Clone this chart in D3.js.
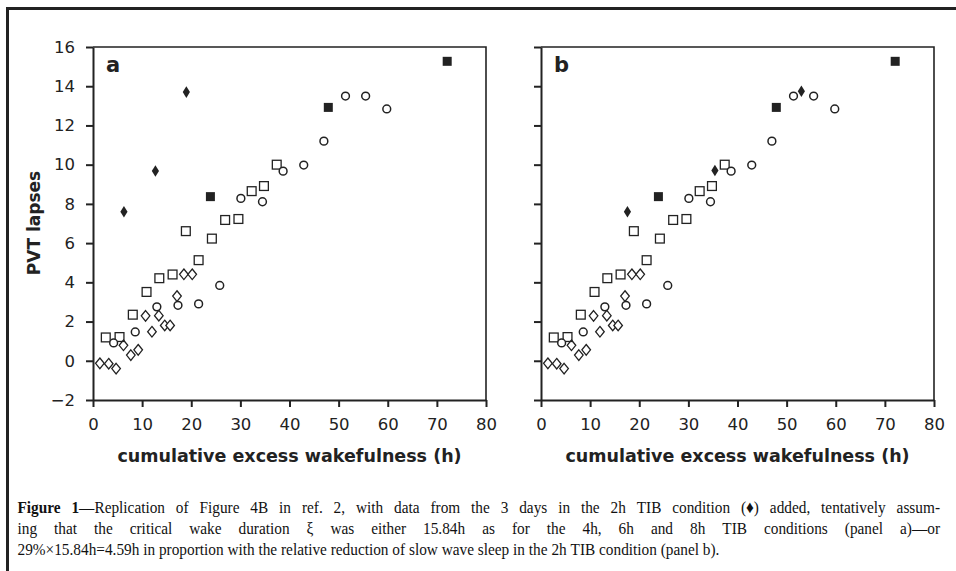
<!doctype html>
<meta charset="utf-8">
<title>PVT lapses vs cumulative excess wakefulness</title>
<style>
    html, body {
        margin: 0;
        background: white;
    }

    svg {
        display: block;
    }

    .tick text {
        font-family: "DejaVu Sans", sans-serif;
        font-size: 16.5px;
        fill: #222;
    }

    .axis path,
    .axis line {
        stroke: #222;
        stroke-width: 2;
    }

    .title {
        font-family: "DejaVu Sans", sans-serif;
        font-weight: bold;
        fill: #222;
    }

    .caption text {
        font-family: "Liberation Serif", "Times New Roman", serif;
        font-size: 17.5px;
        fill: #111;
    }
</style>
<svg width=956 height=571></svg>
<script src="https://cdn.jsdelivr.net/npm/d3@7"></script>
<script>
    // data (h = cumulative excess wakefulness, v = PVT lapses)
    var openDiamondH = [1.4, 3.2, 4.7, 6.2, 7.7, 9.2, 10.7, 12.0, 13.4, 14.6, 15.7, 17.1, 18.5, 20.2];
    var openDiamondV = [-0.13, -0.15, -0.4, 0.79, 0.29, 0.56, 2.29, 1.48, 2.3, 1.8, 1.8, 3.3, 4.41, 4.41];

    var openCircleH = [4.2, 8.6, 13.0, 17.3, 21.5, 25.8, 30.1, 34.5, 38.7, 42.9, 47.0, 51.4, 55.5, 59.8];
    var openCircleV = [0.91, 1.47, 2.75, 2.83, 2.9, 3.84, 8.28, 8.11, 9.67, 9.98, 11.2, 13.5, 13.5, 12.84];

    var openSquareH = [2.6, 5.4, 8.1, 10.9, 13.5, 16.2, 18.9, 21.5, 24.2, 26.9, 29.6, 32.3, 34.8, 37.4];
    var openSquareV = [1.19, 1.21, 2.35, 3.51, 4.21, 4.4, 6.61, 5.13, 6.23, 7.18, 7.23, 8.65, 8.91, 10.0];

    var filledSquareH = [23.9, 47.9, 72.1];
    var filledSquareV = [8.37, 12.92, 15.27];

    // 2h TIB condition, two assumptions for the critical wake duration
    var filledDiamondHa = [6.3, 12.7, 19.0];
    var filledDiamondVa = [7.6, 9.68, 13.7];
    var filledDiamondHb = [17.6, 35.4, 53.0];
    var filledDiamondVb = [7.6, 9.7, 13.74];

    var xTicks = [0, 10, 20, 30, 40, 50, 60, 70, 80];
    var yTicks = [-2, 0, 2, 4, 6, 8, 10, 12, 14, 16];
    var panelLabels = ['a', 'b'];
    var xTitle = 'cumulative excess wakefulness (h)';
    var yTitle = 'PVT lapses';

    var captionBold = 'Figure 1';
    var captionLines = [
        'Figure 1\u2014Replication of Figure 4B in ref. 2, with data from the 3 days in the 2h TIB condition (\u2666) added, tentatively assum-',
        'ing that the critical wake duration \u03be was either 15.84h as for the 4h, 6h and 8h TIB conditions (panel a)\u2014or',
        '29%\u00d715.84h=4.59h in proportion with the relative reduction of slow wave sleep in the 2h TIB condition (panel b).'
    ];

    var svg = d3.select('svg');
    var ink = '#222';

    // outer frame (only left and top edges are in the picture)
    svg.append('path')
        .attr('d', 'M7.5,571V8.5H956')
        .attr('fill', 'none')
        .attr('stroke', ink)
        .attr('stroke-width', 3);

    var y = d3.scaleLinear().domain([-2, 16]).range([400, 47]);

    var panels = [
        { left: 93, label: panelLabels[0], dh: filledDiamondHa, dv: filledDiamondVa, yLabels: true },
        { left: 541, label: panelLabels[1], dh: filledDiamondHb, dv: filledDiamondVb, yLabels: false }
    ];

    panels.forEach(drawPanel);

    function drawPanel(p) {
        var x = d3.scaleLinear().domain([0, 80]).range([p.left, p.left + 393]);
        var g = svg.append('g');

        // box top and right edges
        g.append('path')
            .attr('d', 'M' + x(0) + ',' + y(16) + 'H' + x(80) + 'V' + y(-2))
            .attr('fill', 'none')
            .attr('stroke', ink)
            .attr('stroke-width', 1.6);

        g.append('g')
            .attr('class', 'axis x')
            .attr('transform', 'translate(0,' + y(-2) + ')')
            .call(d3.axisBottom(x).tickValues(xTicks).tickSize(7).tickSizeOuter(0).tickPadding(8));

        var yAxis = d3.axisLeft(y).tickValues(yTicks).tickSize(7).tickSizeOuter(0).tickPadding(11)
            .tickFormat(function (d) {
                if (!p.yLabels) return '';
                return d < 0 ? '\u2212' + (-d) : d;
            });
        g.append('g')
            .attr('class', 'axis y')
            .attr('transform', 'translate(' + x(0) + ',0)')
            .call(yAxis);

        g.selectAll('.x .tick text').attr('dy', '0.9em');

        g.append('text')
            .attr('class', 'title')
            .attr('x', (x(0) + x(80)) / 2)
            .attr('y', 462)
            .attr('text-anchor', 'middle')
            .style('font-size', '17.5px')
            .text(xTitle);

        g.append('text')
            .attr('class', 'title')
            .attr('x', x(0) + 13)
            .attr('y', 72)
            .style('font-size', '21px')
            .text(p.label);

        // open diamonds
        g.selectAll('.odiamond')
            .data(openDiamondH)
            .enter()
            .append('path')
            .attr('d', function (d, i) { return diamond(x(d), y(openDiamondV[i]), 4.3, 5.3); })
            .attr('fill', 'white')
            .attr('stroke', ink)
            .attr('stroke-width', 1.3);

        // open squares
        g.selectAll('.osquare')
            .data(openSquareH)
            .enter()
            .append('rect')
            .attr('x', function (d) { return x(d) - 4.4; })
            .attr('y', function (d, i) { return y(openSquareV[i]) - 4.4; })
            .attr('width', 8.8)
            .attr('height', 8.8)
            .attr('fill', 'none')
            .attr('stroke', ink)
            .attr('stroke-width', 1.3);

        // open circles
        g.selectAll('.ocircle')
            .data(openCircleH)
            .enter()
            .append('circle')
            .attr('cx', function (d) { return x(d); })
            .attr('cy', function (d, i) { return y(openCircleV[i]); })
            .attr('r', 3.9)
            .attr('fill', 'white')
            .attr('stroke', ink)
            .attr('stroke-width', 1.5);

        // filled squares
        g.selectAll('.fsquare')
            .data(filledSquareH)
            .enter()
            .append('rect')
            .attr('x', function (d) { return x(d) - 4.5; })
            .attr('y', function (d, i) { return y(filledSquareV[i]) - 4.5; })
            .attr('width', 9)
            .attr('height', 9)
            .attr('fill', ink);

        // filled diamonds (2h TIB)
        g.selectAll('.fdiamond')
            .data(p.dh)
            .enter()
            .append('path')
            .attr('d', function (d, i) { return diamond(x(d), y(p.dv[i]), 3.6, 5.8); })
            .attr('fill', ink);
    }

    svg.append('text')
        .attr('class', 'title')
        .attr('transform', 'translate(40,223) rotate(-90)')
        .attr('text-anchor', 'middle')
        .style('font-size', '17px')
        .text(yTitle);

    function diamond(cx, cy, w, h) {
        return 'M' + cx + ',' + (cy - h) + 'L' + (cx + w) + ',' + cy + 'L' + cx + ',' + (cy + h) + 'L' + (cx - w) + ',' + cy + 'Z';
    }

    // caption: the printed face is narrow, so squeeze it horizontally; first two lines justified
    var squeeze = 0.875;
    var capLeft = 17.5, capRight = 940;
    var cap = svg.append('g')
        .attr('class', 'caption')
        .attr('transform', 'translate(' + capLeft + ',0) scale(' + squeeze + ',1)');
    var lineWidth = (capRight - capLeft) / squeeze;
    var baselines = [513, 534, 555];
    captionLines.forEach(function (line, li) {
        var words = line.split(' ');
        var pos = 0;
        var els = words.map(function (w) {
            var t = cap.append('text').attr('y', baselines[li]);
            var nb = Math.max(0, Math.min(w.length, (li === 0 ? captionBold.length : 0) - pos));
            if (nb > 0) t.append('tspan').attr('font-weight', 'bold').text(w.slice(0, nb));
            if (nb < w.length) t.append('tspan').text(w.slice(nb));
            pos += w.length + 1;
            return t;
        });
        var widths = els.map(function (e) { return e.node().getComputedTextLength(); });
        var gap = li < 2 ? (lineWidth - d3.sum(widths)) / (words.length - 1) : 17.5 * 0.25;
        var cx = 0;
        els.forEach(function (e, i) {
            e.attr('x', cx);
            cx += widths[i] + gap;
        });
    });
</script>
